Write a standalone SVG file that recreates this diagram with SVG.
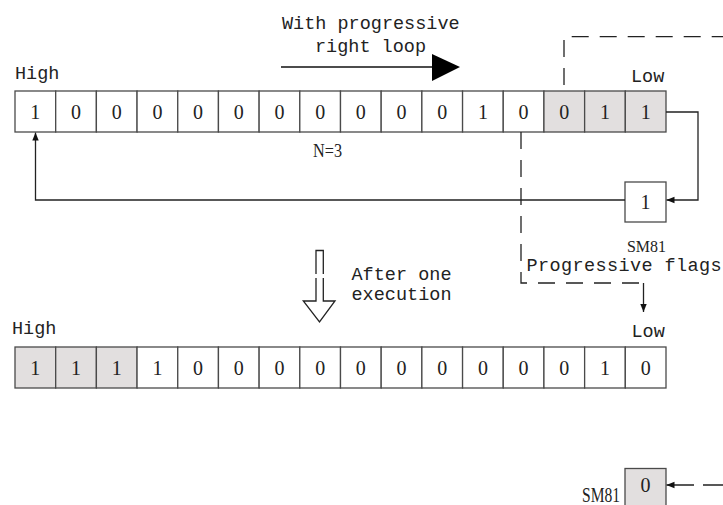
<svg xmlns="http://www.w3.org/2000/svg" width="723" height="505" viewBox="0 0 723 505">
<style>
.cell{fill:#fff;stroke:#4a4a4a;stroke-width:1.3}
.sh{fill:#e2dfdf}
.dg{font-family:"Liberation Serif",serif;font-size:20px;fill:#222;text-anchor:middle}
.mono{font-family:"Liberation Mono",monospace;font-size:18.5px;fill:#222}
.ser{font-family:"Liberation Serif",serif;fill:#222}
.ln{fill:none;stroke:#222;stroke-width:1.3}
.dash{stroke-dasharray:17 11}
</style>
<defs>
<marker id="ah" viewBox="0 0 8 8" refX="8" refY="4" markerWidth="8" markerHeight="8" markerUnits="userSpaceOnUse" orient="auto">
<path d="M0,0.8 L8,4 L0,7.2 Z" fill="#111"/>
</marker>
</defs>
<rect width="723" height="505" fill="#fff"/>

<g id="title">
<text class="mono" x="282" y="29">With progressive</text>
<text class="mono" x="315" y="52">right loop</text>
</g>
<g id="big-arrow">
<line x1="281" y1="67" x2="434" y2="67" stroke="#111" stroke-width="1.6"/>
<polygon points="432,54 460,67 432,81" fill="#000"/>
</g>

<g id="label-high-1"><text class="mono" x="15" y="79">High</text></g>
<g id="label-low-1"><text class="mono" x="631" y="81.5">Low</text></g>

<g id="row1">
<rect class="cell" x="15" y="91" width="40.69" height="41"/>
<rect class="cell" x="55.69" y="91" width="40.69" height="41"/>
<rect class="cell" x="96.38" y="91" width="40.69" height="41"/>
<rect class="cell" x="137.06" y="91" width="40.69" height="41"/>
<rect class="cell" x="177.75" y="91" width="40.69" height="41"/>
<rect class="cell" x="218.44" y="91" width="40.69" height="41"/>
<rect class="cell" x="259.13" y="91" width="40.69" height="41"/>
<rect class="cell" x="299.81" y="91" width="40.69" height="41"/>
<rect class="cell" x="340.5" y="91" width="40.69" height="41"/>
<rect class="cell" x="381.19" y="91" width="40.69" height="41"/>
<rect class="cell" x="421.88" y="91" width="40.69" height="41"/>
<rect class="cell" x="462.56" y="91" width="40.69" height="41"/>
<rect class="cell" x="503.25" y="91" width="40.69" height="41"/>
<rect class="cell sh" x="543.94" y="91" width="40.69" height="41"/>
<rect class="cell sh" x="584.63" y="91" width="40.69" height="41"/>
<rect class="cell sh" x="625.31" y="91" width="40.69" height="41"/>
<text class="dg" x="35.34" y="119">1</text>
<text class="dg" x="76.03" y="119">0</text>
<text class="dg" x="116.72" y="119">0</text>
<text class="dg" x="157.41" y="119">0</text>
<text class="dg" x="198.09" y="119">0</text>
<text class="dg" x="238.78" y="119">0</text>
<text class="dg" x="279.47" y="119">0</text>
<text class="dg" x="320.16" y="119">0</text>
<text class="dg" x="360.84" y="119">0</text>
<text class="dg" x="401.53" y="119">0</text>
<text class="dg" x="442.22" y="119">0</text>
<text class="dg" x="482.91" y="119">1</text>
<text class="dg" x="523.59" y="119">0</text>
<text class="dg" x="564.28" y="119">0</text>
<text class="dg" x="604.97" y="119">1</text>
<text class="dg" x="645.66" y="119">1</text>
</g>

<g id="label-n3"><text class="ser" x="313" y="157" font-size="18" textLength="29" lengthAdjust="spacingAndGlyphs">N=3</text></g>

<g id="sm81-top">
<rect class="cell" x="625" y="182" width="41" height="40"/>
<text class="dg" x="645.5" y="208.5">1</text>
<text class="ser" x="627" y="252" font-size="17" textLength="39" lengthAdjust="spacingAndGlyphs">SM81</text>
</g>
<g id="label-flags"><text class="mono" x="526.5" y="271" textLength="195">Progressive flags</text></g>

<g id="after-arrow">
<path class="ln" d="M316,274 V250.5 H323.3 V274" stroke-width="1.1"/>
<path class="ln" d="M316,278 V301 H303.3 L319.5,322 L335,301 H323.3 V278" stroke-width="1.1"/>
<text class="mono" x="351.5" y="279.5" font-size="17.5" textLength="100">After one</text>
<text class="mono" x="351.5" y="299.5" font-size="17.5" textLength="100">execution</text>
</g>

<g id="label-high-2"><text class="mono" x="12" y="333.5">High</text></g>
<g id="label-low-2"><text class="mono" x="631.5" y="337">Low</text></g>

<g id="row2">
<rect class="cell sh" x="15" y="347" width="40.69" height="41"/>
<rect class="cell sh" x="55.69" y="347" width="40.69" height="41"/>
<rect class="cell sh" x="96.38" y="347" width="40.69" height="41"/>
<rect class="cell" x="137.06" y="347" width="40.69" height="41"/>
<rect class="cell" x="177.75" y="347" width="40.69" height="41"/>
<rect class="cell" x="218.44" y="347" width="40.69" height="41"/>
<rect class="cell" x="259.13" y="347" width="40.69" height="41"/>
<rect class="cell" x="299.81" y="347" width="40.69" height="41"/>
<rect class="cell" x="340.5" y="347" width="40.69" height="41"/>
<rect class="cell" x="381.19" y="347" width="40.69" height="41"/>
<rect class="cell" x="421.88" y="347" width="40.69" height="41"/>
<rect class="cell" x="462.56" y="347" width="40.69" height="41"/>
<rect class="cell" x="503.25" y="347" width="40.69" height="41"/>
<rect class="cell" x="543.94" y="347" width="40.69" height="41"/>
<rect class="cell" x="584.63" y="347" width="40.69" height="41"/>
<rect class="cell" x="625.31" y="347" width="40.69" height="41"/>
<text class="dg" x="35.34" y="375">1</text>
<text class="dg" x="76.03" y="375">1</text>
<text class="dg" x="116.72" y="375">1</text>
<text class="dg" x="157.41" y="375">1</text>
<text class="dg" x="198.09" y="375">0</text>
<text class="dg" x="238.78" y="375">0</text>
<text class="dg" x="279.47" y="375">0</text>
<text class="dg" x="320.16" y="375">0</text>
<text class="dg" x="360.84" y="375">0</text>
<text class="dg" x="401.53" y="375">0</text>
<text class="dg" x="442.22" y="375">0</text>
<text class="dg" x="482.91" y="375">0</text>
<text class="dg" x="523.59" y="375">0</text>
<text class="dg" x="564.28" y="375">0</text>
<text class="dg" x="604.97" y="375">1</text>
<text class="dg" x="645.66" y="375">0</text>
</g>

<g id="sm81-bottom">
<rect class="cell sh" x="625" y="468.5" width="41" height="40"/>
<text class="dg" x="645.5" y="492">0</text>
<text class="ser" x="582" y="501.5" font-size="21" textLength="38" lengthAdjust="spacingAndGlyphs">SM81</text>
</g>

<g id="connectors">
<path class="ln" d="M666,112 H698 V200 H666.5" marker-end="url(#ah)"/>
<path class="ln" d="M625,200 H35.5 V132.5" marker-end="url(#ah)"/>
<path class="ln dash" d="M564,85 V36.7 H723"/>
<path class="ln dash" d="M521,132 V283 H643.5"/>
<path class="ln" d="M643.5,283 V312" marker-end="url(#ah)"/>
<path class="ln" d="M723,485 H703 M694,485 H666.5" marker-end="url(#ah)"/>
</g>
</svg>
